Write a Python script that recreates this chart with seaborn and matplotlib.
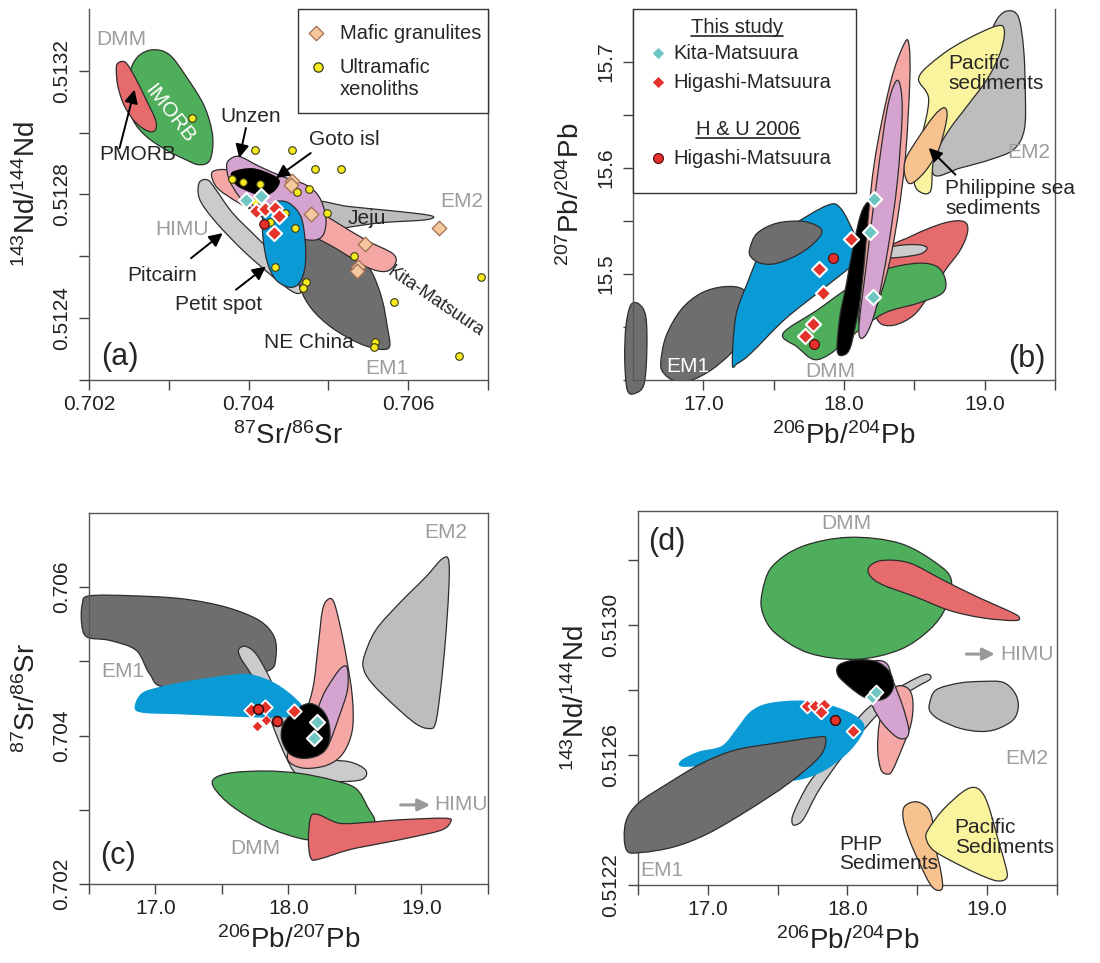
import numpy as np
import matplotlib
matplotlib.use("Agg")
import matplotlib.pyplot as plt
from matplotlib.path import Path
from matplotlib.patches import PathPatch, Rectangle
import seaborn as sns

sns.set_theme(style="ticks")
plt.rcParams["font.family"] = ["Liberation Sans", "DejaVu Sans"]
plt.rcParams["mathtext.fontset"] = "custom"
plt.rcParams["mathtext.rm"] = "Liberation Sans"
plt.rcParams["mathtext.it"] = "Liberation Sans:italic"
plt.rcParams["mathtext.default"] = "regular"

# ------------------------------------------------------------------
# Panel (a): 87Sr/86Sr vs 143Nd/144Nd  -- reference fields (outline vertices)
# ------------------------------------------------------------------
A_IMORB = [(0.702800, 0.513268), (0.703008, 0.513252), (0.703217, 0.513182), (0.703446, 0.513085),
           (0.703550, 0.512988), (0.703517, 0.512912), (0.703383, 0.512896), (0.703217, 0.512912),
           (0.702967, 0.512944), (0.702717, 0.512988), (0.702550, 0.513042), (0.702488, 0.513117),
           (0.702508, 0.513192), (0.702613, 0.513246)]
A_PMORB = [(0.702363, 0.513225), (0.702458, 0.513227), (0.702571, 0.513182), (0.702717, 0.513106),
           (0.702833, 0.513042), (0.702833, 0.513009), (0.702750, 0.513004), (0.702592, 0.513031),
           (0.702446, 0.513085), (0.702363, 0.513149), (0.702342, 0.513203)]
A_PITCAIRN = [(0.703383, 0.512839), (0.703488, 0.512847), (0.703592, 0.512815), (0.703800, 0.512740),
              (0.704092, 0.512664), (0.704383, 0.512589), (0.704633, 0.512513), (0.704654, 0.512483),
              (0.704550, 0.512486), (0.704300, 0.512535), (0.703967, 0.512610), (0.703675, 0.512686),
              (0.703467, 0.512750), (0.703375, 0.512794)]
A_NECHINA = [(0.704675, 0.512653), (0.705050, 0.512659), (0.705383, 0.512599), (0.705550, 0.512546),
             (0.705675, 0.512459), (0.705738, 0.512373), (0.705767, 0.512308), (0.705633, 0.512300),
             (0.705383, 0.512319), (0.705050, 0.512368), (0.704800, 0.512427), (0.704654, 0.512492),
             (0.704592, 0.512567)]
A_JEJU = [(0.704842, 0.512777), (0.705258, 0.512761), (0.705883, 0.512745), (0.706292, 0.512731),
          (0.706217, 0.512718), (0.705675, 0.512709), (0.705300, 0.512696), (0.705050, 0.512686),
          (0.704883, 0.512718)]
A_KITA = [(0.703550, 0.512874), (0.703717, 0.512880), (0.703883, 0.512858), (0.704217, 0.512826),
          (0.704633, 0.512783), (0.705050, 0.512718), (0.705467, 0.512653), (0.705800, 0.512610),
          (0.705842, 0.512578), (0.705717, 0.512551), (0.705467, 0.512567), (0.705050, 0.512632),
          (0.704633, 0.512686), (0.704217, 0.512729), (0.703883, 0.512772), (0.703633, 0.512815),
          (0.703550, 0.512847)]
A_UNZEN = [(0.703758, 0.512912), (0.703883, 0.512923), (0.704133, 0.512891), (0.704425, 0.512858),
           (0.704717, 0.512831), (0.704883, 0.512793), (0.704967, 0.512729), (0.704946, 0.512675),
           (0.704842, 0.512653), (0.704633, 0.512659), (0.704425, 0.512686), (0.704217, 0.512718),
           (0.704050, 0.512750), (0.703883, 0.512793), (0.703758, 0.512847), (0.703725, 0.512891)]
A_GOTO = [(0.703800, 0.512874), (0.704050, 0.512885), (0.704300, 0.512864), (0.704392, 0.512842),
          (0.704321, 0.512810), (0.704175, 0.512794), (0.704029, 0.512806), (0.703863, 0.512826),
          (0.703792, 0.512850)]
A_PETIT = [(0.704217, 0.512750), (0.704342, 0.512777), (0.704508, 0.512772), (0.704654, 0.512729),
           (0.704708, 0.512653), (0.704708, 0.512567), (0.704633, 0.512513), (0.704508, 0.512500),
           (0.704342, 0.512524), (0.704238, 0.512578), (0.704183, 0.512653), (0.704175, 0.512718)]

# Panel (a) samples
A_XENO_SR = [0.703292, 0.704075, 0.704550, 0.704833, 0.705163, 0.703788, 0.703925, 0.704146,
             0.704604, 0.704758, 0.704988, 0.704588, 0.705325, 0.704333, 0.704717, 0.704683,
             0.705821, 0.705583, 0.705575, 0.706913, 0.706642, 0.704458, 0.704271, 0.704079]
A_XENO_ND = [0.513047, 0.512944, 0.512944, 0.512882, 0.512882, 0.512850, 0.512839, 0.512833,
             0.512808, 0.512817, 0.512740, 0.512693, 0.512602, 0.512564, 0.512516, 0.512496,
             0.512451, 0.512324, 0.512308, 0.512533, 0.512279, 0.512740, 0.512710, 0.512777]
A_GRAN_SR = [0.704550, 0.704533, 0.704779, 0.705458, 0.705375, 0.705358, 0.706392]
A_GRAN_ND = [0.512844, 0.512830, 0.512736, 0.512639, 0.512567, 0.512554, 0.512693]
A_KITA_SR = [0.703967, 0.704154]
A_KITA_ND = [0.512783, 0.512794]
A_HIGA_SR = [0.704092, 0.704200, 0.704325, 0.704383, 0.704317]
A_HIGA_ND = [0.512748, 0.512754, 0.512756, 0.512731, 0.512675]
A_HU_SR = [0.704188]
A_HU_ND = [0.512705]

# ------------------------------------------------------------------
# Panel (b): 206Pb/204Pb vs 207Pb/204Pb
# ------------------------------------------------------------------
B_EM1_SMALL = [(16.484, 15.4707), (16.543, 15.4716), (16.591, 15.4596), (16.598, 15.4281),
               (16.579, 15.3965), (16.520, 15.3877), (16.460, 15.3902), (16.441, 15.4186),
               (16.449, 15.4502)]
B_EM1 = [(16.697, 15.4155), (16.733, 15.4407), (16.839, 15.4659), (16.981, 15.4817), (17.147, 15.4880),
         (17.289, 15.4849), (17.360, 15.4659), (17.312, 15.4438), (17.194, 15.4249), (17.052, 15.4091),
         (16.910, 15.3997), (16.792, 15.3997), (16.721, 15.4060)]
B_PETIT = [(17.206, 15.4155), (17.230, 15.4596), (17.312, 15.4912), (17.431, 15.5259), (17.620, 15.5448),
           (17.880, 15.5647), (17.975, 15.5621), (18.070, 15.5385), (18.117, 15.5196), (18.046, 15.5069),
           (17.809, 15.4817), (17.573, 15.4565), (17.336, 15.4249), (17.241, 15.4155)]
B_NECHINA = [(17.331, 15.5243), (17.383, 15.5385), (17.525, 15.5480), (17.715, 15.5495), (17.838, 15.5423),
             (17.809, 15.5322), (17.691, 15.5196), (17.525, 15.5101), (17.407, 15.5101), (17.336, 15.5164)]
B_HIMU = [(18.283, 15.5196), (18.472, 15.5353), (18.709, 15.5480), (18.851, 15.5495), (18.879, 15.5401),
          (18.827, 15.5227), (18.721, 15.5038), (18.614, 15.4817), (18.496, 15.4612), (18.354, 15.4517),
          (18.247, 15.4549), (18.212, 15.4754)]
B_PITCAIRN = [(18.307, 15.5243), (18.425, 15.5274), (18.543, 15.5274), (18.591, 15.5243),
              (18.543, 15.5189), (18.401, 15.5158), (18.295, 15.5158)]
B_DMM = [(17.566, 15.4438), (17.809, 15.4659), (18.046, 15.4880), (18.283, 15.5038), (18.520, 15.5101),
         (18.662, 15.5069), (18.721, 15.4943), (18.697, 15.4817), (18.520, 15.4722), (18.283, 15.4628),
         (18.046, 15.4407), (17.904, 15.4249), (17.786, 15.4193), (17.667, 15.4312)]
B_GOTO = [(17.951, 15.4281), (17.970, 15.4596), (18.018, 15.4912), (18.065, 15.5259), (18.122, 15.5574),
          (18.176, 15.5685), (18.200, 15.5637), (18.181, 15.5322), (18.146, 15.4975), (18.098, 15.4628),
          (18.046, 15.4312), (17.994, 15.4233)]
B_KITA = [(18.105, 15.4565), (18.141, 15.5069), (18.212, 15.6016), (18.330, 15.6804), (18.430, 15.7177),
          (18.463, 15.7151), (18.467, 15.6804), (18.430, 15.6016), (18.342, 15.5227), (18.247, 15.4754),
          (18.154, 15.4517)]
B_UNZEN = [(18.105, 15.4470), (18.157, 15.5069), (18.231, 15.5858), (18.306, 15.6552), (18.366, 15.6811),
           (18.401, 15.6767), (18.413, 15.6489), (18.378, 15.5858), (18.311, 15.5227), (18.231, 15.4691),
           (18.154, 15.4423)]
B_EM2 = [(18.638, 15.5937), (18.662, 15.6268), (18.804, 15.6647), (18.993, 15.7120), (19.088, 15.7404),
         (19.170, 15.7483), (19.241, 15.7420), (19.277, 15.7120), (19.289, 15.6710), (19.282, 15.6363),
         (19.206, 15.6174), (19.040, 15.6079), (18.827, 15.6000)]
B_PACIFIC = [(18.531, 15.6852), (18.685, 15.7057), (18.875, 15.7215), (19.088, 15.7341), (19.140, 15.7293),
             (19.111, 15.7088), (19.017, 15.6836), (18.875, 15.6584), (18.733, 15.6331), (18.638, 15.6079),
             (18.614, 15.5779), (18.520, 15.5795), (18.496, 15.5953), (18.543, 15.6237), (18.602, 15.6647)]
B_PHILSEA = [(18.437, 15.6079), (18.520, 15.6268), (18.638, 15.6489), (18.709, 15.6568), (18.733, 15.6505),
             (18.709, 15.6331), (18.662, 15.6142), (18.567, 15.5953), (18.472, 15.5852), (18.432, 15.5937)]

B_KITA_206 = [18.212, 18.183, 18.205]
B_KITA_207 = [15.5710, 15.5394, 15.4779]
B_HIGA_206 = [18.046, 17.824, 17.850, 17.776, 17.722]
B_HIGA_207 = [15.5331, 15.5044, 15.4817, 15.4524, 15.4413]
B_HU_206 = [17.921, 17.783]
B_HU_207 = [15.5148, 15.4338]

# ------------------------------------------------------------------
# Panel (c): 206Pb/204Pb vs 87Sr/86Sr
# ------------------------------------------------------------------
C_EM1 = [(16.450, 0.705776), (16.505, 0.705884), (16.830, 0.705884), (17.205, 0.705843), (17.530, 0.705731),
         (17.780, 0.705552), (17.893, 0.705328), (17.905, 0.705059), (17.855, 0.704880), (17.580, 0.704791),
         (17.080, 0.704656), (16.955, 0.704835), (16.855, 0.705149), (16.655, 0.705283), (16.485, 0.705328),
         (16.445, 0.705507)]
C_PITCAIRN = [(17.625, 0.705158), (17.675, 0.705203), (17.755, 0.705104), (17.855, 0.704791), (17.943, 0.704432),
              (18.030, 0.704074), (18.093, 0.703760), (18.230, 0.703680), (18.455, 0.703648), (18.580, 0.703536),
              (18.555, 0.703411), (18.380, 0.703380), (18.180, 0.703411), (18.055, 0.703492), (17.980, 0.703716),
              (17.905, 0.704029), (17.830, 0.704387), (17.730, 0.704791), (17.643, 0.705037)]
C_PETIT = [(16.843, 0.704378), (16.893, 0.704567), (17.030, 0.704656), (17.280, 0.704746), (17.580, 0.704822),
           (17.730, 0.704822), (17.905, 0.704701), (18.055, 0.704499), (18.143, 0.704289), (18.030, 0.704253),
           (17.780, 0.704244), (17.455, 0.704266), (17.155, 0.704289), (16.905, 0.704307)]
C_KITA = [(18.293, 0.705830), (18.338, 0.705812), (18.385, 0.705507), (18.435, 0.705059), (18.480, 0.704522),
          (18.480, 0.704074), (18.410, 0.703760), (18.293, 0.703604), (18.130, 0.703559), (18.018, 0.703626),
          (17.995, 0.703760), (18.080, 0.704074), (18.180, 0.704611), (18.225, 0.705239), (18.255, 0.705686)]
C_UNZEN = [(18.405, 0.704925), (18.443, 0.704903), (18.443, 0.704611), (18.380, 0.704253), (18.305, 0.703895),
           (18.243, 0.703760), (18.205, 0.703895), (18.193, 0.704163), (18.255, 0.704522), (18.343, 0.704791)]
C_GOTO = [(17.980, 0.704208), (18.080, 0.704378), (18.168, 0.704432), (18.255, 0.704343), (18.305, 0.704163),
          (18.305, 0.703895), (18.230, 0.703738), (18.105, 0.703693), (18.005, 0.703760), (17.950, 0.703940),
          (17.950, 0.704096)]
C_DMM = [(17.443, 0.703424), (17.580, 0.703501), (17.830, 0.703523), (18.080, 0.703492), (18.330, 0.703402),
         (18.505, 0.703290), (18.593, 0.703044), (18.643, 0.702820), (18.455, 0.702685), (18.205, 0.702605),
         (18.080, 0.702618), (17.830, 0.702775), (17.580, 0.703044), (17.443, 0.703290)]
C_HIMU = [(18.168, 0.702909), (18.230, 0.702932), (18.380, 0.702820), (18.580, 0.702829), (18.830, 0.702865),
          (19.180, 0.702887), (19.218, 0.702833), (19.155, 0.702730), (18.955, 0.702641), (18.705, 0.702551),
          (18.455, 0.702461), (18.230, 0.702336), (18.168, 0.702349), (18.150, 0.702596)]
C_EM2 = [(18.568, 0.705059), (18.655, 0.705418), (18.830, 0.705776), (19.030, 0.706134), (19.155, 0.706381),
         (19.205, 0.706358), (19.205, 0.705955), (19.180, 0.705283), (19.143, 0.704611), (19.105, 0.704163),
         (19.055, 0.704096), (18.955, 0.704163), (18.780, 0.704432), (18.630, 0.704701), (18.568, 0.704880)]

C_KITA_206 = [18.213, 18.193]
C_KITA_SR = [0.704177, 0.703962]
C_HIGA_206 = [17.718, 17.823, 18.038]
C_HIGA_SR = [0.704342, 0.704387, 0.704334]
C_HIGA2_206 = [17.830, 17.763]
C_HIGA2_SR = [0.704217, 0.704128]
C_HU_206 = [17.773, 17.913]
C_HU_SR = [0.704365, 0.704199]

# ------------------------------------------------------------------
# Panel (d): 206Pb/204Pb vs 143Nd/144Nd
# ------------------------------------------------------------------
D_DMM = [(17.388, 0.513097), (17.460, 0.513179), (17.676, 0.513241), (18.012, 0.513269), (18.372, 0.513251),
         (18.635, 0.513190), (18.743, 0.513138), (18.707, 0.513056), (18.588, 0.512985), (18.372, 0.512923),
         (18.060, 0.512894), (17.724, 0.512913), (17.484, 0.512974), (17.393, 0.513036)]
D_HIMU = [(18.156, 0.513179), (18.252, 0.513198), (18.444, 0.513190), (18.683, 0.513138), (18.923, 0.513087),
          (19.163, 0.513041), (19.228, 0.513024), (19.199, 0.513013), (18.971, 0.513021), (18.731, 0.513044),
          (18.492, 0.513085), (18.252, 0.513123), (18.161, 0.513151)]
D_EM2 = [(18.588, 0.512759), (18.635, 0.512800), (18.803, 0.512821), (18.971, 0.512826), (19.115, 0.512823),
         (19.199, 0.512790), (19.223, 0.512749), (19.187, 0.512708), (19.067, 0.512679), (18.947, 0.512672),
         (18.803, 0.512682), (18.659, 0.512708), (18.592, 0.512733)]
D_PITCAIRN = [(17.604, 0.512390), (17.616, 0.512423), (17.724, 0.512513), (17.892, 0.512605), (18.108, 0.512728),
              (18.300, 0.512790), (18.492, 0.512836), (18.576, 0.512848), (18.592, 0.512833), (18.492, 0.512808),
              (18.300, 0.512757), (18.156, 0.512697), (17.964, 0.512595), (17.796, 0.512492), (17.688, 0.512405),
              (17.633, 0.512385)]
D_PETIT = [(16.808, 0.512583), (16.933, 0.512610), (17.101, 0.512628), (17.209, 0.512682), (17.305, 0.512733),
           (17.436, 0.512759), (17.676, 0.512767), (17.892, 0.512751), (18.048, 0.512723), (18.120, 0.512692),
           (18.096, 0.512656), (18.000, 0.512605), (17.844, 0.512554), (17.676, 0.512525), (17.532, 0.512523),
           (17.293, 0.512544), (17.005, 0.512564), (16.813, 0.512564)]
D_EM1 = [(16.410, 0.512390), (16.501, 0.512451), (16.717, 0.512513), (16.957, 0.512574), (17.197, 0.512615),
         (17.484, 0.512636), (17.772, 0.512654), (17.844, 0.512651), (17.801, 0.512595), (17.580, 0.512513),
         (17.293, 0.512431), (17.005, 0.512359), (16.765, 0.512318), (16.525, 0.512300), (16.417, 0.512308)]
D_KITA = [(18.348, 0.512810), (18.432, 0.512805), (18.468, 0.512767), (18.456, 0.512697), (18.396, 0.512626),
          (18.324, 0.512554), (18.288, 0.512541), (18.240, 0.512554), (18.216, 0.512615), (18.228, 0.512697),
          (18.276, 0.512769)]
D_UNZEN = [(18.156, 0.512877), (18.228, 0.512890), (18.288, 0.512877), (18.324, 0.512831), (18.396, 0.512749),
           (18.439, 0.512677), (18.415, 0.512651), (18.348, 0.512656), (18.252, 0.512697), (18.180, 0.512749),
           (18.144, 0.512800)]
D_GOTO = [(17.940, 0.512877), (18.060, 0.512892), (18.204, 0.512887), (18.300, 0.512856), (18.329, 0.512810),
          (18.281, 0.512777), (18.192, 0.512767), (18.108, 0.512780), (18.012, 0.512810), (17.930, 0.512846)]
D_PHP = [(18.408, 0.512441), (18.492, 0.512456), (18.576, 0.512436), (18.612, 0.512390), (18.635, 0.512308),
         (18.671, 0.512236), (18.679, 0.512190), (18.635, 0.512185), (18.588, 0.512205), (18.516, 0.512267),
         (18.444, 0.512338), (18.400, 0.512400)]
D_PACIFIC = [(18.576, 0.512369), (18.683, 0.512431), (18.827, 0.512487), (18.911, 0.512500), (18.971, 0.512480),
             (19.019, 0.512431), (19.079, 0.512338), (19.134, 0.512256), (19.139, 0.512221), (19.067, 0.512213),
             (18.923, 0.512236), (18.731, 0.512277), (18.612, 0.512308), (18.564, 0.512341)]

D_KITA_206 = [18.175, 18.204]
D_KITA_ND = [0.512779, 0.512793]
D_HIGA_206 = [17.712, 17.765, 17.835, 17.813, 18.036]
D_HIGA_ND = [0.512751, 0.512749, 0.512754, 0.512731, 0.512675]
D_HU_206 = [17.909]
D_HU_ND = [0.512708]

# ------------------------------------------------------------------
# Styling
# ------------------------------------------------------------------
GREEN = "#4fae5c"
RED = "#e56b6c"
PINK = "#f4a7a5"
LILAC = "#d4a3cf"
BLUE = "#0a9ad6"
DARK = "#6e6e6e"
LIGHT = "#cbcbcb"
GRAY2 = "#bdbdbd"
YELLOW = "#fbf49e"
ORANGE = "#f8c28f"
EDGE = "#2d2d2d"
LABEL_GRAY = "#9d9d9d"
TEAL = "#6ec6c3"
SAMPLE_RED = "#e5322b"


def field(ax, pts, color, z, edge=True, clip=True):
    """Closed smooth outline (Catmull-Rom converted to cubic Bezier)."""
    p = np.asarray(pts, dtype=float)
    n = len(p)
    verts = [p[0]]
    codes = [Path.MOVETO]
    for i in range(n):
        p0, p1, p2, p3 = p[i - 1], p[i], p[(i + 1) % n], p[(i + 2) % n]
        verts += [p1 + (p2 - p0) / 6.0, p2 - (p3 - p1) / 6.0, p2]
        codes += [Path.CURVE4] * 3
    patch = PathPatch(Path(verts, codes), facecolor=color,
                      edgecolor=EDGE if edge else "none", lw=0.9, zorder=z)
    patch.set_clip_on(clip)
    ax.add_patch(patch)


def style(ax, xlim, ylim, xticks, xlabels, yticks, ylabels, xlab, ylab, box):
    ax.set_xlim(*xlim)
    ax.set_ylim(*ylim)
    ax.set_xticks(xticks)
    ax.set_xticklabels(xlabels)
    ax.set_yticks(yticks)
    ax.set_yticklabels(ylabels, rotation=90, va="center")
    ax.tick_params(axis="both", direction="out", length=7, width=1.0, color="#444",
                   labelsize=15, labelcolor="#222")
    ax.tick_params(axis="x", pad=4)
    ax.tick_params(axis="y", pad=6)
    for side in ["left", "bottom", "right", "top"]:
        ax.spines[side].set_color("#555")
        ax.spines[side].set_linewidth(1.0)
    ax.spines["top"].set_visible(box)
    ax.set_xlabel(xlab, fontsize=20, labelpad=6, color="#222")
    ax.set_ylabel(ylab, fontsize=20, labelpad=8, color="#222")
    ax.set_facecolor("white")


def pts(ax, x, y, marker, s, color, edge, lw=1.0, z=20):
    sns.scatterplot(x=x, y=y, ax=ax, marker=marker, s=s, color=color,
                    edgecolor=edge, linewidth=lw, zorder=z, legend=False)


def arrow(ax, start, end, color="black", lw=1.4, ms=20):
    ax.annotate("", xy=end, xytext=start,
                arrowprops=dict(arrowstyle="-|>", color=color, lw=lw,
                                mutation_scale=ms, shrinkA=0, shrinkB=0), zorder=30)


fig = plt.figure(figsize=(11, 9.63), dpi=100)
fig.patch.set_facecolor("white")

ax_a = fig.add_axes([0.0809, 0.6054, 0.3627, 0.3853])
ax_b = fig.add_axes([0.5755, 0.6054, 0.3836, 0.3853])
ax_c = fig.add_axes([0.0809, 0.0820, 0.3627, 0.3853])
ax_d = fig.add_axes([0.5800, 0.0810, 0.3809, 0.3884])

PB_TICKS = [16.5, 17.0, 17.5, 18.0, 18.5, 19.0, 19.5]
PB_LABELS = ["", "17.0", "", "18.0", "", "19.0", ""]

# ---------------- (a) ----------------
ax = ax_a
style(ax, (0.702, 0.707), (0.5122, 0.5134),
      [0.702, 0.703, 0.704, 0.705, 0.706, 0.707], ["0.702", "", "0.704", "", "0.706", ""],
      [0.5122, 0.5124, 0.5126, 0.5128, 0.5130, 0.5132], ["", "0.5124", "", "0.5128", "", "0.5132"],
      r"$^{87}$Sr/$^{86}$Sr", r"$^{143}$Nd/$^{144}$Nd", box=False)
field(ax, A_PITCAIRN, LIGHT, 2)
field(ax, A_IMORB, GREEN, 3)
field(ax, A_PMORB, RED, 4)
field(ax, A_NECHINA, DARK, 5)
field(ax, A_JEJU, GRAY2, 6)
field(ax, A_KITA, PINK, 7)
field(ax, A_UNZEN, LILAC, 8)
field(ax, A_GOTO, "black", 9, edge=False)
field(ax, A_PETIT, BLUE, 10)
pts(ax, A_XENO_SR, A_XENO_ND, "o", 30, "#f6ea1c", "#3a3a1a", lw=0.8)
pts(ax, A_GRAN_SR, A_GRAN_ND, "D", 55, "#f4c79e", "#a07050", lw=0.9)
pts(ax, A_KITA_SR, A_KITA_ND, "D", 60, TEAL, "white", lw=1.5, z=22)
pts(ax, A_HIGA_SR, A_HIGA_ND, "D", 60, SAMPLE_RED, "white", lw=1.5, z=22)
pts(ax, A_HU_SR, A_HU_ND, "o", 45, SAMPLE_RED, "#5a1010", lw=0.9, z=23)

ax.text(0.702404, 0.513302, "DMM", color=LABEL_GRAY, fontsize=15, ha="center", va="center")
ax.text(0.703008, 0.513063, "IMORB", color="white", fontsize=15, ha="center", va="center",
        rotation=-52, zorder=12)
ax.text(0.702613, 0.512928, "PMORB", fontsize=15, ha="center", va="center")
arrow(ax, (0.702383, 0.512950), (0.702571, 0.513139))
ax.text(0.704029, 0.513052, "Unzen", fontsize=15, ha="center", va="center")
arrow(ax, (0.703967, 0.513015), (0.703883, 0.512918))
ax.text(0.705196, 0.512979, "Goto isl", fontsize=15, ha="center", va="center")
arrow(ax, (0.704779, 0.512934), (0.704342, 0.512853))
ax.text(0.705479, 0.512721, "Jeju", fontsize=15, ha="center", va="center", zorder=12)
ax.text(0.706675, 0.512777, "EM2", color=LABEL_GRAY, fontsize=15, ha="center", va="center")
ax.text(0.703167, 0.512688, "HIMU", color=LABEL_GRAY, fontsize=15, ha="center", va="center")
ax.text(0.702913, 0.512537, "Pitcairn", fontsize=15, ha="center", va="center")
arrow(ax, (0.703279, 0.512594), (0.703675, 0.512675))
ax.text(0.703621, 0.512443, "Petit spot", fontsize=15, ha="center", va="center")
arrow(ax, (0.703842, 0.512492), (0.704217, 0.512567))
ax.text(0.704758, 0.512321, "NE China", fontsize=15, ha="center", va="center", zorder=12)
ax.text(0.706342, 0.512454, "Kita-Matsuura", fontsize=13, ha="center", va="center", rotation=-34)
ax.text(0.705738, 0.512238, "EM1", color=LABEL_GRAY, fontsize=15, ha="center", va="center")
ax.text(0.702383, 0.512276, "(a)", fontsize=22, ha="center", va="center")

# legend box
ax.add_patch(Rectangle((0.524, 0.72), 0.476, 0.28, transform=ax.transAxes, facecolor="white",
                       edgecolor="#333", lw=1.0, zorder=40, clip_on=False))
ax.scatter([0.569], [0.935], marker="D", s=55, color="#f4c79e", edgecolor="#a07050", lw=0.9,
           transform=ax.transAxes, zorder=41, clip_on=False)
ax.scatter([0.574], [0.844], marker="o", s=45, color="#f6ea1c", edgecolor="#3a3a1a", lw=0.9,
           transform=ax.transAxes, zorder=41, clip_on=False)
ax.text(0.629, 0.935, "Mafic granulites", transform=ax.transAxes, fontsize=14.5, va="center", zorder=41)
ax.text(0.629, 0.813, "Ultramafic\nxenoliths", transform=ax.transAxes, fontsize=14.5, va="center",
        linespacing=1.2, zorder=41)

# ---------------- (b) ----------------
ax = ax_b
style(ax, (16.5, 19.5), (15.4, 15.75), PB_TICKS, PB_LABELS,
      [15.40, 15.45, 15.50, 15.55, 15.60, 15.65, 15.70], ["", "", "15.5", "", "15.6", "", "15.7"],
      r"$^{206}$Pb/$^{204}$Pb", r"$^{207}$Pb/$^{204}$Pb", box=False)
field(ax, B_EM1_SMALL, DARK, 2, clip=False)
field(ax, B_EM1, DARK, 3)
field(ax, B_PETIT, BLUE, 4)
field(ax, B_NECHINA, DARK, 5)
field(ax, B_HIMU, RED, 6)
field(ax, B_PITCAIRN, LIGHT, 7)
field(ax, B_DMM, GREEN, 8)
field(ax, B_GOTO, "black", 9)
field(ax, B_KITA, PINK, 10)
field(ax, B_UNZEN, LILAC, 11)
field(ax, B_EM2, GRAY2, 12)
field(ax, B_PACIFIC, YELLOW, 13)
field(ax, B_PHILSEA, ORANGE, 14)
pts(ax, B_KITA_206, B_KITA_207, "D", 60, TEAL, "white", lw=1.5, z=22)
pts(ax, B_HIGA_206, B_HIGA_207, "D", 60, SAMPLE_RED, "white", lw=1.5, z=22)
pts(ax, B_HU_206, B_HU_207, "o", 50, SAMPLE_RED, "#5a1010", lw=0.9, z=23)

ax.text(18.744, 15.6893, "Pacific\nsediments", fontsize=15, ha="left", va="center", linespacing=1.05,
        zorder=30)
ax.text(19.312, 15.6142, "EM2", color=LABEL_GRAY, fontsize=15, ha="center", va="center", zorder=30)
ax.text(18.721, 15.5710, "Philippine sea\nsediments", fontsize=15, ha="left", va="center",
        linespacing=1.05, zorder=30)
arrow(ax, (18.792, 15.5937), (18.602, 15.6189))
ax.text(16.886, 15.4123, "EM1", color="white", fontsize=15, ha="center", va="center", zorder=30)
ax.text(17.899, 15.4076, "DMM", color=LABEL_GRAY, fontsize=15, ha="center", va="center", zorder=30)
ax.text(19.300, 15.4202, "(b)", fontsize=22, ha="center", va="center", zorder=30)

ax.add_patch(Rectangle((0.0, 0.504), 0.528, 0.496, transform=ax.transAxes, facecolor="white",
                       edgecolor="#333", lw=1.0, zorder=40, clip_on=False))
head1 = ax.text(0.246, 0.949, "This study", transform=ax.transAxes, fontsize=14.5,
                ha="center", va="center", zorder=41)
head2 = ax.text(0.273, 0.674, "H & U 2006", transform=ax.transAxes, fontsize=14.5,
                ha="center", va="center", zorder=41)
ax.scatter([0.059], [0.881], marker="D", s=45, color=TEAL, edgecolor="white", lw=1.0,
           transform=ax.transAxes, zorder=41, clip_on=False)
ax.scatter([0.059], [0.803], marker="D", s=45, color=SAMPLE_RED, edgecolor="white", lw=1.0,
           transform=ax.transAxes, zorder=41, clip_on=False)
ax.scatter([0.059], [0.598], marker="o", s=50, color=SAMPLE_RED, edgecolor="#5a1010", lw=0.9,
           transform=ax.transAxes, zorder=41, clip_on=False)
for yy, lab in [(0.881, "Kita-Matsuura"), (0.803, "Higashi-Matsuura"), (0.598, "Higashi-Matsuura")]:
    ax.text(0.095, yy, lab, transform=ax.transAxes, fontsize=14.5, va="center", zorder=41)

# ---------------- (c) ----------------
ax = ax_c
style(ax, (16.5, 19.5), (0.702, 0.707), PB_TICKS, PB_LABELS,
      [0.702, 0.703, 0.704, 0.705, 0.706], ["0.702", "", "0.704", "", "0.706"],
      r"$^{206}$Pb/$^{207}$Pb", r"$^{87}$Sr/$^{86}$Sr", box=True)
field(ax, C_EM1, DARK, 2, clip=False)
field(ax, C_PITCAIRN, LIGHT, 3)
field(ax, C_PETIT, BLUE, 4, edge=False)
field(ax, C_KITA, PINK, 5)
field(ax, C_UNZEN, LILAC, 6)
field(ax, C_GOTO, "black", 7)
field(ax, C_DMM, GREEN, 8)
field(ax, C_HIMU, RED, 9)
field(ax, C_EM2, GRAY2, 10)
pts(ax, C_KITA_206, C_KITA_SR, "D", 60, TEAL, "white", lw=1.5, z=22)
pts(ax, C_HIGA_206, C_HIGA_SR, "D", 55, SAMPLE_RED, "white", lw=1.3, z=22)
pts(ax, C_HIGA2_206, C_HIGA2_SR, "D", 30, SAMPLE_RED, "white", lw=0.6, z=22)
pts(ax, C_HU_206, C_HU_SR, "o", 50, SAMPLE_RED, "#3a0a0a", lw=1.2, z=23)

ax.text(19.18, 0.706739, "EM2", color=LABEL_GRAY, fontsize=15, ha="center", va="center")
ax.text(16.755, 0.704858, "EM1", color=LABEL_GRAY, fontsize=15, ha="center", va="center", zorder=12)
ax.text(17.75, 0.702484, "DMM", color=LABEL_GRAY, fontsize=15, ha="center", va="center")
arrow(ax, (18.843, 0.703066), (19.065, 0.703066), color="#999999", lw=2.2, ms=18)
ax.text(19.093, 0.703066, "HIMU", color=LABEL_GRAY, fontsize=15, ha="left", va="center")
ax.text(16.718, 0.702372, "(c)", fontsize=22, ha="center", va="center")

# ---------------- (d) ----------------
ax = ax_d
style(ax, (16.5, 19.5), (0.5122, 0.51335), PB_TICKS, PB_LABELS,
      [0.5122, 0.5124, 0.5126, 0.5128, 0.5130, 0.5132], ["0.5122", "", "0.5126", "", "0.5130", ""],
      r"$^{206}$Pb/$^{204}$Pb", r"$^{143}$Nd/$^{144}$Nd", box=True)
field(ax, D_DMM, GREEN, 2)
field(ax, D_HIMU, RED, 3)
field(ax, D_EM2, GRAY2, 4)
field(ax, D_PITCAIRN, LIGHT, 5)
field(ax, D_PETIT, BLUE, 6, edge=False)
field(ax, D_EM1, DARK, 7, clip=False)
field(ax, D_KITA, PINK, 8)
field(ax, D_UNZEN, LILAC, 9)
field(ax, D_GOTO, "black", 10)
field(ax, D_PHP, ORANGE, 11, clip=False)
field(ax, D_PACIFIC, YELLOW, 12)
pts(ax, D_KITA_206, D_KITA_ND, "D", 50, TEAL, "white", lw=1.3, z=22)
pts(ax, D_HIGA_206, D_HIGA_ND, "D", 50, SAMPLE_RED, "white", lw=1.3, z=22)
pts(ax, D_HU_206, D_HU_ND, "o", 50, SAMPLE_RED, "#3a0a0a", lw=1.0, z=23)

ax.text(17.995, 0.513313, "DMM", color=LABEL_GRAY, fontsize=15, ha="center", va="center")
ax.text(16.705, 0.513256, "(d)", fontsize=22, ha="center", va="center")
arrow(ax, (18.851, 0.512910), (19.055, 0.512910), color="#999999", lw=2.2, ms=18)
ax.text(19.091, 0.512910, "HIMU", color=LABEL_GRAY, fontsize=15, ha="left", va="center")
ax.text(19.283, 0.512590, "EM2", color=LABEL_GRAY, fontsize=15, ha="center", va="center")
ax.text(16.669, 0.512246, "EM1", color=LABEL_GRAY, fontsize=15, ha="center", va="center")
ax.text(17.940, 0.512295, "PHP\nSediments", fontsize=15, ha="left", va="center", linespacing=1.05,
        zorder=30)
ax.text(18.767, 0.512345, "Pacific\nSediments", fontsize=15, ha="left", va="center", linespacing=1.05,
        zorder=30)

# underline the two legend headings in panel (b)
fig.canvas.draw()
inv = ax_b.transAxes.inverted()
for head in (head1, head2):
    bb = head.get_window_extent().transformed(inv)
    ax_b.plot([bb.x0, bb.x1], [bb.y0 + 0.004, bb.y0 + 0.004], transform=ax_b.transAxes,
              color="#222", lw=1.2, zorder=42, clip_on=False)

fig.savefig("out.png", dpi=100, facecolor="white")
